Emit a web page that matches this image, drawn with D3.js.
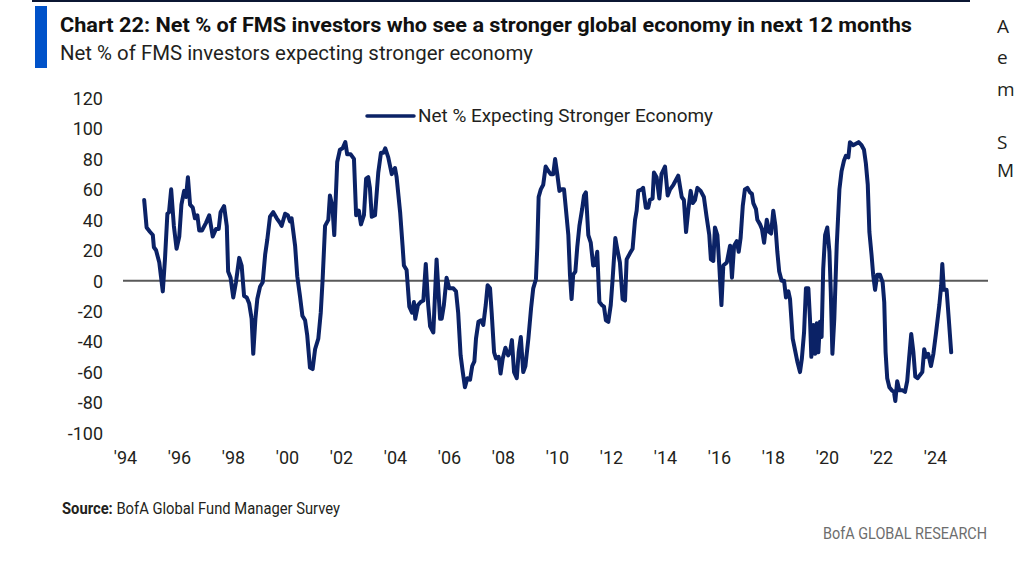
<!DOCTYPE html>
<html>
<head>
<meta charset="utf-8">
<script src="https://cdn.jsdelivr.net/npm/d3@7"></script>
<style>
  html, body { margin: 0; padding: 0; background: #fff; }
  svg { display: block; }
  text { font-family: "Liberation Sans Narrow", "Roboto", "Noto Sans", sans-serif; }
</style>
</head>
<body>
<svg id="chart" width="1014" height="565"></svg>
<script>
// ---- data ----
const titleText = "Chart 22: Net % of FMS investors who see a stronger global economy in next 12 months";
const subtitleText = "Net % of FMS investors expecting stronger economy";
const seriesName = "Net % Expecting Stronger Economy";
const yTicks = [120, 100, 80, 60, 40, 20, 0, -20, -40, -60, -80, -100];
const xTickYears = [1994, 1996, 1998, 2000, 2002, 2004, 2006, 2008, 2010, 2012, 2014, 2016, 2018, 2020, 2022, 2024];
const xTickLabels = ["'94", "'96", "'98", "'00", "'02", "'04", "'06", "'08", "'10", "'12", "'14", "'16", "'18", "'20", "'22", "'24"];

// decimal-year dates of survey readings
const dates = [
  1994.71, 1994.80, 1994.93, 1995.03, 1995.07, 1995.15, 1995.27, 1995.40, 1995.48, 1995.57,
  1995.63, 1995.71, 1995.81, 1995.91, 1996.01, 1996.09, 1996.19, 1996.26, 1996.33, 1996.41,
  1996.51, 1996.59, 1996.68, 1996.75, 1996.85, 1997.00, 1997.12, 1997.25, 1997.37, 1997.47,
  1997.54, 1997.67, 1997.77, 1997.82, 1997.91, 1998.01, 1998.11, 1998.23, 1998.32, 1998.41,
  1998.51, 1998.60, 1998.69, 1998.75, 1998.83, 1998.90, 1999.00, 1999.10, 1999.19, 1999.27,
  1999.37, 1999.49, 1999.62, 1999.74, 1999.80, 1999.93, 2000.03, 2000.11, 2000.17, 2000.30,
  2000.38, 2000.48, 2000.57, 2000.67, 2000.75, 2000.85, 2000.95, 2001.04, 2001.16, 2001.25,
  2001.32, 2001.41, 2001.53, 2001.59, 2001.68, 2001.75, 2001.86, 2001.96, 2002.06, 2002.16,
  2002.23, 2002.36, 2002.48, 2002.56, 2002.66, 2002.74, 2002.85, 2002.93, 2003.01, 2003.07,
  2003.14, 2003.26, 2003.38, 2003.48, 2003.57, 2003.64, 2003.75, 2003.88, 2004.00, 2004.06,
  2004.19, 2004.28, 2004.33, 2004.43, 2004.53, 2004.63, 2004.70, 2004.75, 2004.85, 2004.95,
  2005.05, 2005.14, 2005.23, 2005.30, 2005.42, 2005.54, 2005.67, 2005.73, 2005.81, 2005.91,
  2006.01, 2006.16, 2006.26, 2006.34, 2006.43, 2006.51, 2006.59, 2006.68, 2006.78, 2006.86,
  2006.94, 2007.00, 2007.09, 2007.19, 2007.27, 2007.36, 2007.43, 2007.52, 2007.58, 2007.67,
  2007.74, 2007.84, 2007.91, 2007.99, 2008.09, 2008.19, 2008.26, 2008.33, 2008.41, 2008.51,
  2008.58, 2008.66, 2008.75, 2008.83, 2008.94, 2009.04, 2009.12, 2009.22, 2009.27, 2009.32,
  2009.40, 2009.49, 2009.58, 2009.68, 2009.77, 2009.86, 2009.93, 2010.01, 2010.09, 2010.17,
  2010.26, 2010.33, 2010.42, 2010.48, 2010.54, 2010.60, 2010.68, 2010.75, 2010.83, 2010.93,
  2011.00, 2011.07, 2011.16, 2011.25, 2011.34, 2011.42, 2011.49, 2011.57, 2011.66, 2011.74,
  2011.81, 2011.90, 2011.99, 2012.06, 2012.16, 2012.23, 2012.33, 2012.43, 2012.52, 2012.58,
  2012.70, 2012.80, 2012.89, 2012.95, 2013.01, 2013.14, 2013.19, 2013.29, 2013.38, 2013.44,
  2013.54, 2013.59, 2013.69, 2013.79, 2013.87, 2014.00, 2014.10, 2014.19, 2014.31, 2014.49,
  2014.62, 2014.70, 2014.78, 2014.86, 2014.95, 2015.03, 2015.11, 2015.20, 2015.32, 2015.44,
  2015.54, 2015.64, 2015.70, 2015.79, 2015.85, 2015.94, 2016.01, 2016.09, 2016.16, 2016.29,
  2016.41, 2016.48, 2016.56, 2016.66, 2016.73, 2016.80, 2016.88, 2016.96, 2017.05, 2017.15,
  2017.22, 2017.27, 2017.37, 2017.42, 2017.52, 2017.59, 2017.67, 2017.77, 2017.86, 2017.93,
  2018.01, 2018.09, 2018.16, 2018.23, 2018.32, 2018.41, 2018.48, 2018.57, 2018.63, 2018.73,
  2018.81, 2018.90, 2019.00, 2019.07, 2019.15, 2019.22, 2019.31, 2019.37, 2019.42, 2019.49,
  2019.56, 2019.62, 2019.68, 2019.74, 2019.80, 2019.86, 2019.93, 2020.01, 2020.09, 2020.14,
  2020.20, 2020.27, 2020.36, 2020.46, 2020.54, 2020.63, 2020.70, 2020.79, 2020.85, 2020.97,
  2021.07, 2021.17, 2021.28, 2021.37, 2021.44, 2021.51, 2021.57, 2021.65, 2021.71, 2021.78,
  2021.86, 2021.96, 2022.06, 2022.12, 2022.17, 2022.23, 2022.31, 2022.40, 2022.48, 2022.53,
  2022.60, 2022.68, 2022.80, 2022.89, 2022.97, 2023.04, 2023.12, 2023.20, 2023.27, 2023.36,
  2023.44, 2023.53, 2023.60, 2023.67, 2023.75, 2023.85, 2023.94, 2024.04, 2024.16, 2024.23,
  2024.27, 2024.33, 2024.43, 2024.51, 2024.60
];
const values = [
  53, 35, 32, 30, 22, 20, 12, -7, 14, 44,
  45, 60, 36, 21, 29, 50, 59, 55, 68, 50,
  48, 41, 43, 33, 33, 38, 43, 29, 34, 34,
  45, 49, 36, 6, 2, -11, -1, 15, 10, -10,
  -11, -15, -25, -48, -25, -12, -4, -1, 17, 27,
  42, 45, 41, 38, 36, 44, 43, 39, 41, 23,
  3, -10, -23, -26, -36, -57, -58, -45, -38, -21,
  1, 36, 40, 56, 49, 30, 78, 86, 87, 91,
  83, 83, 80, 43, 46, 37, 43, 67, 68, 61,
  42, 43, 71, 84, 84, 87, 81, 70, 74, 68,
  45, 23, 10, 7, -17, -21, -14, -25, -16, -14,
  -13, 11, -16, -30, -34, 14, -25, -25, -16, 2,
  -5, -5, -7, -21, -49, -60, -70, -64, -65, -56,
  -53, -38, -27, -26, -29, -16, -3, -5, -21, -47,
  -51, -50, -61, -51, -44, -49, -47, -39, -60, -64,
  -47, -37, -60, -56, -38, -18, -5, 1, 22, 55,
  60, 63, 75, 72, 70, 70, 80, 70, 59, 60,
  60, 47, 30, 4, -12, 4, 6, 22, 36, 47,
  56, 58, 30, 25, 10, 11, 19, -14, -16, -17,
  -26, -27, -16, 1, 28, 21, 12, -12, -13, 14,
  18, 21, 40, 46, 59, 60, 61, 48, 48, 53,
  54, 71, 68, 54, 70, 75, 56, 60, 63, 69,
  55, 53, 32, 46, 59, 51, 53, 61, 59, 55,
  42, 30, 14, 13, 35, 30, 10, -16, 10, 12,
  23, 2, 23, 26, 19, 28, 49, 60, 61, 58,
  57, 51, 47, 40, 37, 34, 25, 40, 32, 31,
  46, 36, 19, 6, 0, 0, -11, -7, -12, -38,
  -45, -53, -60, -51, -34, -5, -5, -25, -50, -29,
  -48, -28, -47, -27, -37, 8, 30, 35, 19, -7,
  -48, -25, 23, 60, 72, 79, 82, 81, 91, 89,
  90, 91, 89, 86, 77, 63, 32, 17, 4, -6,
  4, 4, -1, -14, -47, -64, -70, -72, -73, -79,
  -66, -72, -72, -73, -66, -51, -35, -47, -63, -64,
  -62, -60, -45, -50, -48, -56, -48, -34, -16, -3,
  11, -6, -6, -25, -47
];

// ---- drawing ----
const svg = d3.select("#chart");
const navy = "#0b2266";
const textCol = "#231f20";

const x = d3.scaleLinear().domain([1994, 2024]).range([125, 935]);
const y = d3.scaleLinear().domain([-100, 120]).range([433, 98]);

// header rule and accent bar
svg.append("rect").attr("x", 32).attr("y", 0).attr("width", 938).attr("height", 2).attr("fill", "#0b1633");
svg.append("rect").attr("x", 35).attr("y", 6).attr("width", 12).attr("height", 62).attr("fill", "#0052c9");

svg.append("text").attr("x", 60).attr("y", 32)
  .attr("font-size", 21).attr("font-weight", "bold").attr("fill", "#111")
  .attr("textLength", 852).attr("lengthAdjust", "spacingAndGlyphs")
  .text(titleText);
svg.append("text").attr("x", 60).attr("y", 60)
  .attr("font-size", 20).attr("fill", textCol)
  .attr("textLength", 473).attr("lengthAdjust", "spacingAndGlyphs")
  .text(subtitleText);

// text of the neighbouring column (only its first letters show at the edge)
const sideLetters = ["A", "e", "m", "S", "M"];
const sideY = [33, 64, 96, 149, 177];
svg.selectAll("text.side").data(sideLetters).enter().append("text")
  .attr("class", "side").attr("x", 997).attr("y", (d, i) => sideY[i])
  .attr("font-size", 19).attr("fill", textCol)
  .style("font-family", "'Open Sans', sans-serif")
  .text(d => d);

// y axis labels
const yAxis = d3.axisLeft(y).tickValues(yTicks).tickSize(0).tickPadding(0).tickFormat(d => String(d));
const gy = svg.append("g").attr("transform", "translate(103,0)").call(yAxis);
gy.select(".domain").remove();
gy.selectAll("text").attr("font-size", 18).attr("fill", textCol)
  .style("font-family", "'Liberation Sans Narrow', 'Roboto', sans-serif").attr("dy", "0.35em");

// x axis labels
const xAxis = d3.axisBottom(x).tickValues(xTickYears).tickSize(0).tickPadding(0)
  .tickFormat((d, i) => xTickLabels[i]);
const gx = svg.append("g").attr("transform", "translate(0,451)").call(xAxis);
gx.select(".domain").remove();
gx.selectAll("text").attr("font-size", 18).attr("fill", textCol)
  .style("font-family", "'Liberation Sans Narrow', 'Roboto', sans-serif");

// zero line
svg.append("line").attr("x1", 123).attr("x2", 988).attr("y1", y(0)).attr("y2", y(0))
  .attr("stroke", "#595959").attr("stroke-width", 2);

// series line
const pts = dates.map((d, i) => [d, values[i]]);
svg.append("path").datum(pts)
  .attr("fill", "none").attr("stroke", navy).attr("stroke-width", 4)
  .attr("stroke-linejoin", "round").attr("stroke-linecap", "round")
  .attr("d", d3.line().x(d => x(d[0])).y(d => y(d[1])));

// legend
svg.append("line").attr("x1", 367).attr("x2", 414).attr("y1", 116).attr("y2", 116)
  .attr("stroke", navy).attr("stroke-width", 3.5).attr("stroke-linecap", "round");
svg.append("text").attr("x", 418).attr("y", 122)
  .attr("font-size", 19).attr("fill", textCol)
  .attr("textLength", 295).attr("lengthAdjust", "spacingAndGlyphs")
  .text(seriesName);

// source & footer
const src = svg.append("text").attr("x", 62).attr("y", 514).attr("font-size", 16).attr("fill", textCol)
  .attr("textLength", 278).attr("lengthAdjust", "spacingAndGlyphs");
src.append("tspan").attr("font-weight", "bold").text("Source:");
src.append("tspan").text(" BofA Global Fund Manager Survey");

svg.append("text").attr("x", 987).attr("y", 539).attr("text-anchor", "end")
  .attr("font-size", 16).attr("fill", "#6d6d6d")
  .attr("textLength", 164).attr("lengthAdjust", "spacingAndGlyphs")
  .text("BofA GLOBAL RESEARCH");
</script>
</body>
</html>
